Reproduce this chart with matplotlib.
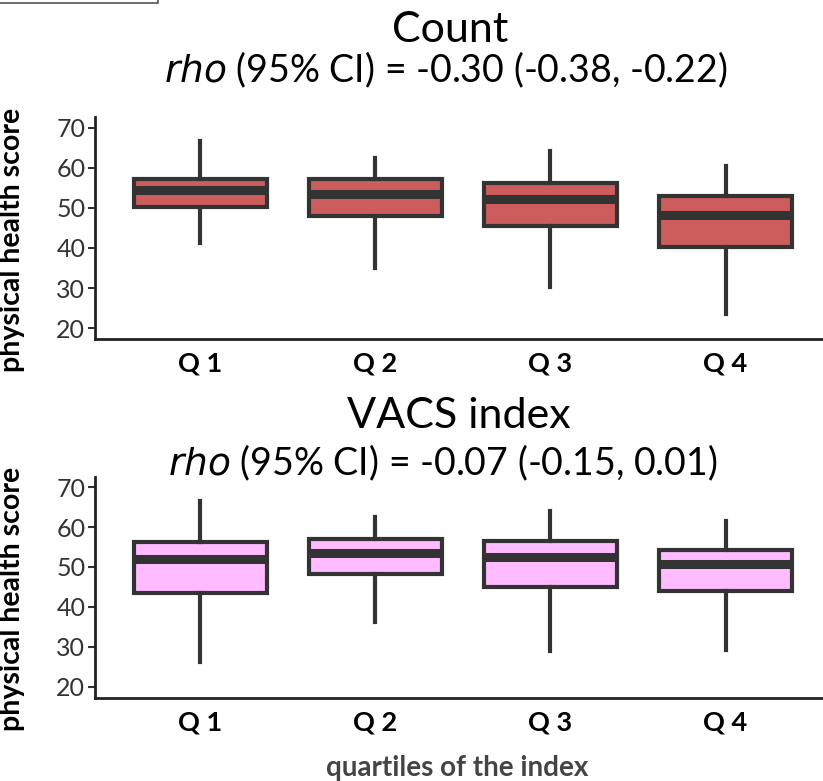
import matplotlib
matplotlib.use("Agg")
import matplotlib.pyplot as plt
from matplotlib.patches import Rectangle

plt.rcParams['font.family'] = ['Lato', 'DejaVu Sans']

# quartile labels
quartiles = ["Q 1", "Q 2", "Q 3", "Q 4"]

# Count index: whisker low, Q1, median, Q3, whisker high
count_wlo = [41.1, 34.9, 30.2, 23.6]
count_q1 = [50.1, 48.0, 45.5, 40.3]
count_med = [54.4, 53.4, 52.3, 48.2]
count_q3 = [57.1, 57.3, 56.3, 52.9]
count_whi = [66.7, 62.5, 64.2, 60.4]

# VACS index
vacs_wlo = [26.2, 36.3, 29.0, 29.2]
vacs_q1 = [43.6, 48.2, 45.0, 44.1]
vacs_med = [51.9, 53.6, 52.4, 50.7]
vacs_q3 = [56.3, 56.9, 56.5, 54.3]
vacs_whi = [66.5, 62.4, 64.0, 61.5]

titles = ["Count", "VACS index"]
rho_text = ["-0.30 (-0.38, -0.22)", "-0.07 (-0.15, 0.01)"]
colors = ["#CD5C5C", "#FFBBFF"]

edge = "#333333"

fig = plt.figure(figsize=(8.23, 7.81), dpi=100)
ax1 = fig.add_axes([0.1154, 0.566, 0.8846, 0.284])
ax2 = fig.add_axes([0.1154, 0.1067, 0.8846, 0.283])

panels = [
    (ax1, count_wlo, count_q1, count_med, count_q3, count_whi),
    (ax2, vacs_wlo, vacs_q1, vacs_med, vacs_q3, vacs_whi),
]

for k, (ax, wlo, q1, med, q3, whi) in enumerate(panels):
    stats = []
    for i in range(4):
        stats.append({"whislo": wlo[i], "q1": q1[i], "med": med[i],
                      "q3": q3[i], "whishi": whi[i], "fliers": []})
    ax.bxp(stats, positions=[1, 2, 3, 4], widths=0.76, patch_artist=True,
           showcaps=False,
           boxprops=dict(facecolor=colors[k], edgecolor=edge, linewidth=3),
           medianprops=dict(color=edge, linewidth=6.5, solid_capstyle='butt'),
           whiskerprops=dict(color=edge, linewidth=3))
    ax.set_xlim(0.4, 4.556)
    ax.set_ylim(17.3, 72.6)
    ax.set_yticks([20, 30, 40, 50, 60, 70])
    ax.set_xticks([1, 2, 3, 4])
    ax.set_xticklabels(quartiles, fontsize=19.5, fontweight='bold')
    ax.tick_params(axis='y', labelsize=18, colors='#333333', length=5, width=1.5, pad=2)
    ax.tick_params(axis='x', length=0, pad=9)
    for lab in ax.get_xticklabels():
        lab.set_color('black')
    ax.spines['top'].set_visible(False)
    ax.spines['right'].set_visible(False)
    ax.spines['left'].set_linewidth(2)
    ax.spines['bottom'].set_linewidth(2)
    ax.spines['left'].set_color('#222222')
    ax.spines['bottom'].set_color('#222222')
    ax.set_ylabel("physical health score", fontsize=20.5, fontweight='bold')
    ax.yaxis.set_label_coords(-0.096, 0.445)

fig.text(0.547, 0.946, titles[0], ha='center', va='baseline', fontsize=31)
fig.text(0.541, 0.895, r"$\it{rho}$ (95% CI) = " + rho_text[0], ha='center', va='baseline', fontsize=27)
fig.text(0.558, 0.452, titles[1], ha='center', va='baseline', fontsize=31)
fig.text(0.538, 0.392, r"$\it{rho}$ (95% CI) = " + rho_text[1], ha='center', va='baseline', fontsize=27)
fig.text(0.555, 0.017, "quartiles of the index", ha='center', va='center',
         fontsize=20, fontweight='bold', color='#444444')

# stray frame fragment in the top-left corner
fig.patches.append(Rectangle((-0.01, 0.996), 0.202, 0.02, transform=fig.transFigure,
                             fill=False, edgecolor='#555555', linewidth=1.2))

fig.savefig("out.png", dpi=100)
